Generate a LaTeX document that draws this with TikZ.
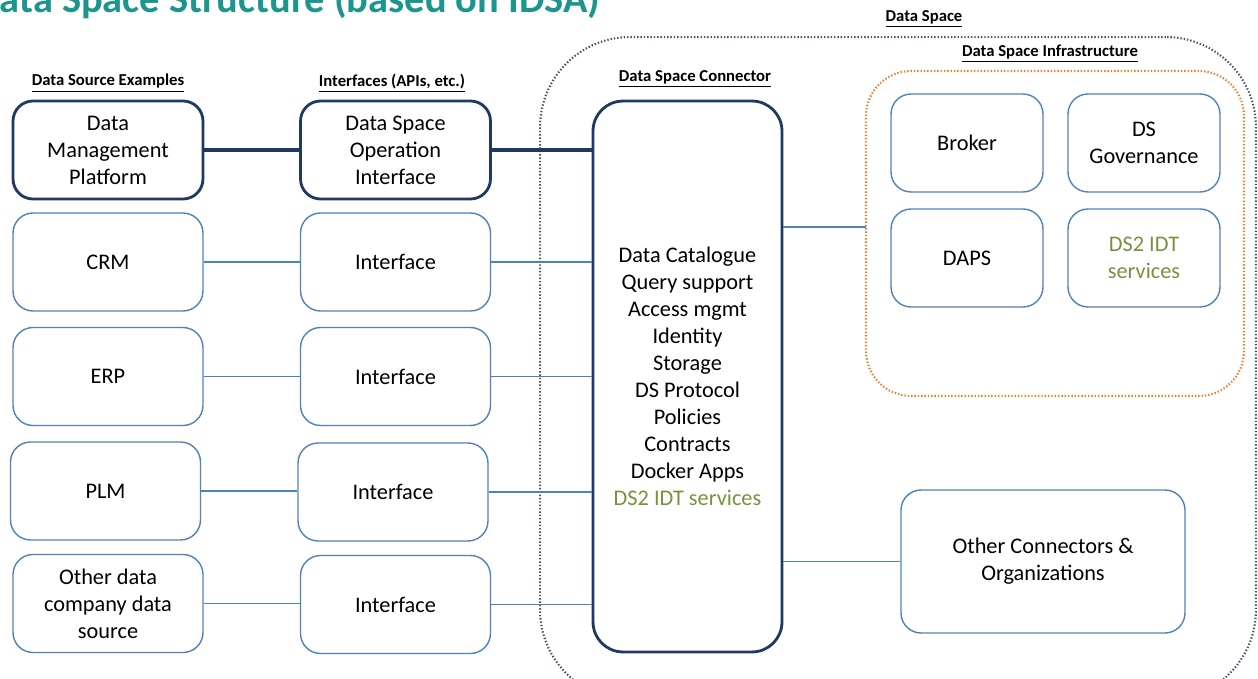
\documentclass[tikz,border=0pt]{standalone}
\usepackage{fontspec}
\setmainfont{Carlito}
\usepackage{xcolor}
\usetikzlibrary{positioning}
\definecolor{dsblue}{RGB}{79,129,189}
\definecolor{dsnavy}{RGB}{31,56,100}
\definecolor{dsgreen}{RGB}{118,146,60}
\definecolor{dsorange}{RGB}{237,125,49}
\definecolor{dsgrey}{RGB}{68,84,106}
\definecolor{dsteal}{RGB}{28,150,140}

\begin{document}
\begin{tikzpicture}[
    x=0.02cm, y=-0.02cm,
    txt/.style={font=\fontsize{12.7}{15.4}\selectfont, align=center},
    hdr/.style={font=\fontsize{9.5}{11}\selectfont\bfseries, inner sep=0pt},
    box/.style={txt, draw=dsblue, line width=0.8pt, rounded corners=0.4cm,
        minimum width=3.8cm, minimum height=1.96cm},
    darkbox/.style={box, draw=dsnavy, line width=1.6pt},
    infrabox/.style={box, minimum width=3.04cm},
    region/.style={line width=1.2pt, dash pattern=on 0.8pt off 1.1pt},
    link/.style={dsblue, line width=0.8pt},
    darklink/.style={dsnavy, line width=1.8pt}
]
\useasboundingbox (0,0) rectangle (1258,679);
\clip (0,0) rectangle (1258,679);

% Title (cut off at the top)
\node[anchor=base west, inner sep=0pt, text=dsteal,
    font=\fontsize{23}{27}\selectfont\bfseries] (title) at (-26,13)
    {Data Space Structure (based on IDSA)};

% Containers
\node[region, draw=dsgrey, rounded corners=1.8cm,
    minimum width=14.32cm, minimum height=13.26cm] (dspace) at (898,368.5) {};
\node[region, draw=dsorange, rounded corners=0.9cm,
    minimum width=7.56cm, minimum height=6.5cm] (infra) at (1055,233.5) {};
\coordinate (infraIn) at (866,227);

% Headers
\node[hdr] (hsrc) at (108,83) {\underline{Data Source Examples}};
\node[hdr] (hifc) at (392,83) {\underline{Interfaces (APIs, etc.)}};
\node[hdr] (hconn) at (695,79) {\underline{Data Space Connector}};
\node[hdr] (hspace) at (924,19) {\underline{Data Space}};
\node[hdr] (hinfra) at (1050,54) {\underline{Data Space Infrastructure}};

% Data sources
\node[darkbox] (dmp) at (108,150) {Data\\Management\\Platform};
\node[box] (crm) at (108,262) {CRM};
\node[box] (erp) at (108,376.5) {ERP};
\node[box] (plm) at (105.5,491) {PLM};
\node[box] (other) at (108,603.5) {Other data\\company data\\source};

% Interfaces
\node[darkbox] (dsoi) at (395.5,150) {Data Space\\Operation\\Interface};
\node[box] (ifcA) at (395.5,262) {Interface};
\node[box] (ifcB) at (395.5,376.5) {Interface};
\node[box] (ifcC) at (393,492) {Interface};
\node[box] (ifcD) at (395.5,604.5) {Interface};

% Connector
\node[darkbox, rounded corners=0.6cm, minimum width=3.78cm, minimum height=11.02cm]
    (conn) at (687.5,376.5) {Data Catalogue\\Query support\\Access mgmt\\Identity\\Storage\\
    DS Protocol\\Policies\\Contracts\\Docker Apps\\\textcolor{dsgreen}{DS2 IDT services}};

% Infrastructure
\node[infrabox] (broker) at (967,143) {Broker};
\node[infrabox] (gov) at (1144,143) {DS\\Governance};
\node[infrabox] (daps) at (967,258) {DAPS};
\node[infrabox, text=dsgreen] (idt) at (1144,258) {DS2 IDT\\services};

\node[box, minimum width=5.68cm, minimum height=2.86cm] (orgs) at (1043,561.5)
    {Other Connectors \&\\Organizations};

% Links
\draw[darklink] (dmp) -- (dsoi);
\draw[darklink] (dsoi) -- (dsoi -| conn.west);
\foreach \s/\i in {crm/ifcA, erp/ifcB, plm/ifcC, other/ifcD} {
    \draw[link] (\s) -- (\s -| \i.west);
    \draw[link] (\i) -- (\i -| conn.west);
}
\draw[link] (conn.east |- infraIn) -- (infraIn);
\draw[link] (conn.east |- orgs.west) -- (orgs.west);
\end{tikzpicture}
\end{document}
